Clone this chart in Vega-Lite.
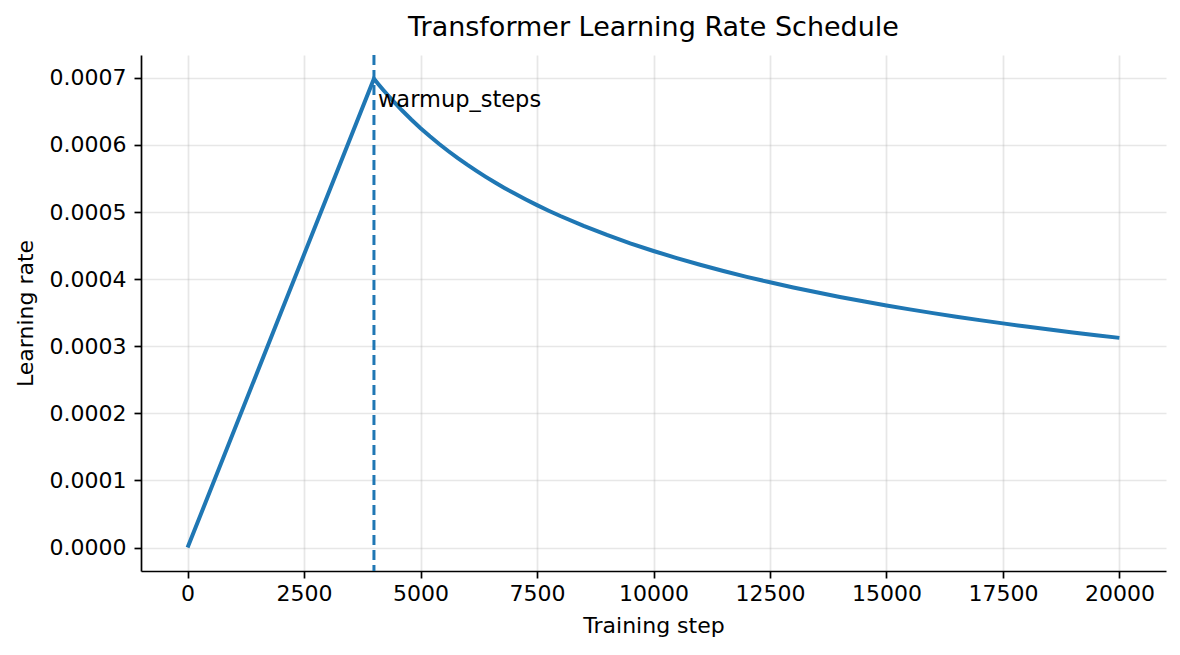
{
  "$schema": "https://vega.github.io/schema/vega-lite/v6.json",
  "width": 1025,
  "height": 516,
  "autosize": {"type": "none"},
  "padding": {"left": 141, "top": 55, "right": 14, "bottom": 84},
  "background": "white",
  "config": {
    "font": "DejaVu Sans",
    "view": {"stroke": null},
    "axis": {
      "labelFont": "DejaVu Sans",
      "titleFont": "DejaVu Sans",
      "labelFontSize": 22,
      "titleFontSize": 22,
      "titleFontWeight": "normal",
      "labelColor": "#000000",
      "titleColor": "#000000",
      "domainColor": "#000000",
      "domainWidth": 1.7,
      "tickColor": "#000000",
      "tickWidth": 1.7,
      "tickSize": 7,
      "labelPadding": 5,
      "gridColor": "#b0b0b0",
      "gridOpacity": 0.3,
      "gridWidth": 1.7
    }
  },
  "title": {
    "text": "Transformer Learning Rate Schedule",
    "font": "DejaVu Sans",
    "fontSize": 27,
    "fontWeight": "normal",
    "color": "#000000",
    "frame": "group",
    "anchor": "middle",
    "baseline": "alphabetic",
    "offset": -9
  },
  "datasets": {
    "schedule": [
      {"step": 0, "lr": 0.0},
      {"step": 2000, "lr": 0.000349386},
      {"step": 4000, "lr": 0.000698771},
      {"step": 4100, "lr": 0.000690202},
      {"step": 4200, "lr": 0.000681939},
      {"step": 4300, "lr": 0.000673963},
      {"step": 4400, "lr": 0.000666256},
      {"step": 4500, "lr": 0.000658808},
      {"step": 4600, "lr": 0.000651612},
      {"step": 4800, "lr": 0.000637888},
      {"step": 5000, "lr": 0.000625000},
      {"step": 5200, "lr": 0.000612866},
      {"step": 5400, "lr": 0.000601410},
      {"step": 5600, "lr": 0.000590573},
      {"step": 5800, "lr": 0.000580298},
      {"step": 6000, "lr": 0.000570544},
      {"step": 6200, "lr": 0.000561270},
      {"step": 6400, "lr": 0.000552428},
      {"step": 6600, "lr": 0.000543996},
      {"step": 6800, "lr": 0.000535935},
      {"step": 7000, "lr": 0.000528223},
      {"step": 7250, "lr": 0.000519035},
      {"step": 7500, "lr": 0.000510310},
      {"step": 7750, "lr": 0.000502014},
      {"step": 8000, "lr": 0.000494106},
      {"step": 8500, "lr": 0.000479355},
      {"step": 9000, "lr": 0.000465850},
      {"step": 9500, "lr": 0.000453421},
      {"step": 10000, "lr": 0.000441942},
      {"step": 10500, "lr": 0.000431289},
      {"step": 11000, "lr": 0.000421382},
      {"step": 11500, "lr": 0.000412114},
      {"step": 12000, "lr": 0.000403434},
      {"step": 12500, "lr": 0.000395285},
      {"step": 13000, "lr": 0.000387607},
      {"step": 13500, "lr": 0.000380363},
      {"step": 14000, "lr": 0.000373507},
      {"step": 14500, "lr": 0.000367013},
      {"step": 15000, "lr": 0.000360844},
      {"step": 15500, "lr": 0.000354976},
      {"step": 16000, "lr": 0.000349386},
      {"step": 16500, "lr": 0.000344052},
      {"step": 17000, "lr": 0.000338955},
      {"step": 17500, "lr": 0.000334076},
      {"step": 18000, "lr": 0.000329403},
      {"step": 18500, "lr": 0.000324922},
      {"step": 19000, "lr": 0.000320620},
      {"step": 19500, "lr": 0.000316481},
      {"step": 20000, "lr": 0.000312500}
    ],
    "warmup": [{"step": 4000, "lr": 0.000657, "label": "warmup_steps"}]
  },
  "layer": [
    {
      "data": {"name": "schedule"},
      "mark": {"type": "line", "color": "#1f77b4", "strokeWidth": 4, "clip": true},
      "encoding": {
        "x": {
          "field": "step",
          "type": "quantitative",
          "scale": {"domain": [-1000, 21000], "nice": false, "zero": false},
          "axis": {
            "title": "Training step",
            "values": [0, 2500, 5000, 7500, 10000, 12500, 15000, 17500, 20000],
            "format": "d",
            "titlePadding": 11,
            "grid": true
          }
        },
        "y": {
          "field": "lr",
          "type": "quantitative",
          "scale": {"domain": [-0.0000349, 0.000734], "nice": false, "zero": false},
          "axis": {
            "title": "Learning rate",
            "values": [0, 0.0001, 0.0002, 0.0003, 0.0004, 0.0005, 0.0006, 0.0007],
            "format": ".4f",
            "labelPadding": 8,
            "titlePadding": 12,
            "grid": true
          }
        }
      }
    },
    {
      "data": {"name": "warmup"},
      "mark": {"type": "rule", "color": "#1f77b4", "strokeWidth": 3, "strokeDash": [10, 5], "y": 0, "y2": {"expr": "height"}},
      "encoding": {
        "x": {"field": "step", "type": "quantitative"}
      }
    },
    {
      "data": {"name": "warmup"},
      "mark": {"type": "text", "align": "left", "baseline": "alphabetic", "dx": 4, "fontSize": 22.5, "font": "DejaVu Sans", "color": "#000000"},
      "encoding": {
        "x": {"field": "step", "type": "quantitative"},
        "y": {"field": "lr", "type": "quantitative"},
        "text": {"field": "label"}
      }
    }
  ]
}
